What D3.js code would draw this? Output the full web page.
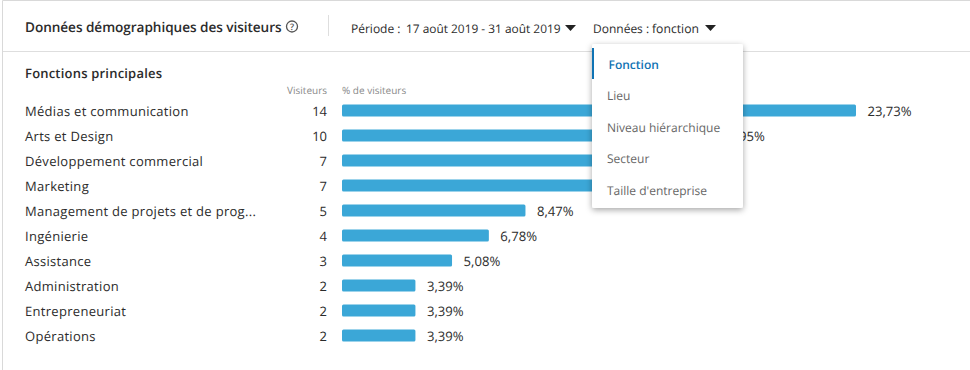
<!DOCTYPE html>
<html><head><meta charset="utf-8">
<script src="https://cdn.jsdelivr.net/npm/d3@7/dist/d3.min.js"></script>
<style>
html,body{margin:0;padding:0;background:#fff;overflow:hidden}
text{font-family:"Open Sans","Noto Sans",sans-serif;text-rendering:geometricPrecision}
</style></head><body><div id="c"></div>
<script>
const categories=["Médias et communication","Arts et Design","Développement commercial","Marketing","Management de projets et de prog...","Ingénierie","Assistance","Administration","Entrepreneuriat","Opérations"];
const visitors=[14,10,7,7,5,4,3,2,2,2];
const percents=[23.73,16.95,11.86,11.86,8.47,6.78,5.08,3.39,3.39,3.39];
const menuItems=["Fonction","Lieu","Niveau hiérarchique","Secteur","Taille d'entreprise"];
const fr=v=>v.toFixed(2).replace(".",",")+"%";

const svg=d3.select("#c").append("svg").attr("width",970).attr("height",370).style("display","block");
const defs=svg.append("defs");
const f=defs.append("filter").attr("id","sh").attr("x","-10%").attr("y","-10%").attr("width","120%").attr("height","125%");
f.append("feDropShadow").attr("dx",0).attr("dy",2).attr("stdDeviation",3).attr("flood-color","#000").attr("flood-opacity",0.35);

const ink="#2b2b2b";
svg.append("path").attr("d","M2.5,370V0.5H970").attr("fill","none").attr("stroke","#d9d9d9");
svg.append("line").attr("x1",3).attr("x2",970).attr("y1",51.5).attr("y2",51.5).attr("stroke","#dedede");
svg.append("line").attr("x1",328.5).attr("x2",328.5).attr("y1",15).attr("y2",36).attr("stroke","#dedede");

const T=(x,y,s,o={})=>svg.append("text").attr("x",x).attr("y",y).text(s)
  .attr("font-size",o.size||13).attr("fill",o.fill||ink).attr("font-weight",o.w||400)
  .attr("text-anchor",o.a||"start").attr("dominant-baseline","alphabetic").attr("letter-spacing",o.ls||0);

T(25,32,"Données démographiques des visiteurs",{size:13.6,w:600,ls:-.05});
svg.append("circle").attr("cx",292).attr("cy",26.5).attr("r",5.5).attr("fill","none").attr("stroke","#555").attr("stroke-width",1.3);
T(292,30,"?",{size:9,a:"middle",fill:"#555",w:600});
T(351,33,"Période :",{size:12});
T(406,33,"17 août 2019 - 31 août 2019",{size:11.9,w:500});
svg.append("path").attr("d","M565,25h11l-5.5,6z").attr("fill","#222");
T(593,33,"Données :",{size:12});
T(652,33,"fonction",{size:12.2,w:500});
svg.append("path").attr("d","M705,25h11l-5.5,6z").attr("fill","#222");

T(25,78,"Fonctions principales",{size:13,w:600,ls:.2});
T(327,94,"Visiteurs",{size:10,a:"end",fill:"#8a8a8a"});
T(342,94,"% de visiteurs",{size:10,fill:"#8a8a8a"});

const x=d3.scaleLinear().domain([0,d3.max(percents)]).range([342,856]);
const y=d3.scaleBand().domain(categories).range([98,348]).paddingInner(0.52).paddingOuter(0.26);
const rows=svg.append("g").selectAll("g").data(categories).join("g");
const cy=c=>y(c)+y.bandwidth()/2;
rows.append("rect").attr("x",x(0)).attr("y",c=>y(c)).attr("height",y.bandwidth())
  .attr("width",(c,i)=>x(percents[i])-x(0)).attr("rx",1.5).attr("fill","#3ba7d7");
rows.append("text").attr("x",25).attr("y",c=>cy(c)+5.5).text(c=>c).attr("font-size",13).attr("letter-spacing",.3).attr("fill",ink);
rows.append("text").attr("x",327).attr("y",c=>cy(c)+5.5).text((c,i)=>visitors[i]).attr("font-size",13).attr("fill",ink).attr("text-anchor","end");
rows.append("text").attr("x",(c,i)=>x(percents[i])+11.5).attr("y",c=>cy(c)+5.5).text((c,i)=>fr(percents[i])).attr("font-size",13.1).attr("fill",ink);

svg.append("rect").attr("x",592).attr("y",44).attr("width",151).attr("height",164).attr("rx",2).attr("fill","#fff").attr("filter","url(#sh)");
svg.append("rect").attr("x",592).attr("y",48).attr("width",2).attr("height",31).attr("fill","#0f73b4");
menuItems.forEach((m,i)=>{
  T(i==0?608.5:607,69+i*31.4,m,{size:12,fill:i==0?"#0f73b4":"#666",w:i==0?600:400});
});
</script></body></html>
